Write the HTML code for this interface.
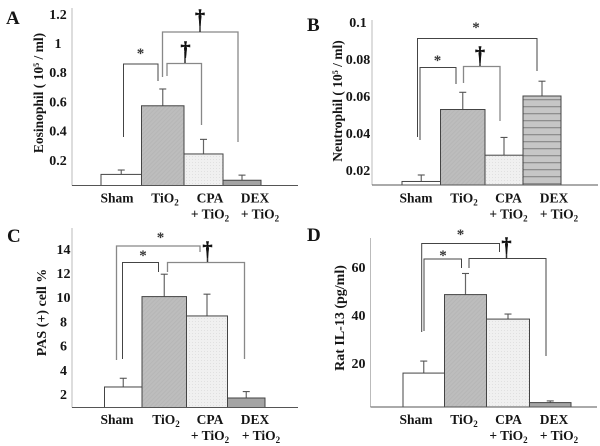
<!DOCTYPE html>
<html>
<head>
<meta charset="utf-8">
<style>
html,body{margin:0;padding:0;background:#fff;}
svg{display:block;}
text{font-family:"Liberation Serif",serif;font-weight:bold;fill:#151515;}
.cat{font-size:13.5px;text-anchor:middle;}
.tick{font-size:14px;text-anchor:middle;}
.title{font-size:13.5px;text-anchor:middle;}
.letter{font-size:19px;}
.br{fill:none;stroke:#444;stroke-width:1;}
.brg{fill:none;stroke:#888;stroke-width:1.3;}
.stem{fill:none;stroke:#333;stroke-width:1.5;}
.star{font-size:15px;text-anchor:middle;fill:#333;}
.dag{font-size:20px;text-anchor:middle;fill:#111;stroke:#111;stroke-width:.5;}
</style>
</head>
<body>
<svg id="chart" xmlns="http://www.w3.org/2000/svg" width="600" height="446" viewBox="0 0 600 446">
<defs>
<pattern id="diag" width="3" height="3" patternUnits="userSpaceOnUse" patternTransform="rotate(45)"><rect width="3" height="3" fill="#bdbdbd"/><rect width="1" height="3" fill="#b6b6b6"/></pattern>
<pattern id="dots" width="3" height="3" patternUnits="userSpaceOnUse"><rect width="3" height="3" fill="#f0f0f0"/><rect width="1" height="1" fill="#e0e0e0"/></pattern>
<pattern id="stripes" width="7" height="7" patternUnits="userSpaceOnUse" y="1"><rect width="7" height="7" fill="#c6c6c6"/><rect width="7" height="1.3" fill="#8e8e8e"/></pattern>
</defs>

<rect width="600" height="446" fill="#fff"/>

<text class="letter" x="6" y="24">A</text>
<text class="letter" x="307" y="31">B</text>
<text class="letter" x="7" y="242">C</text>
<text class="letter" x="307" y="241">D</text>

<text class="title" transform="translate(43,93) rotate(-90)">Eosinophil ( 10<tspan font-size="8" dy="-4">5</tspan><tspan dy="4"> / ml)</tspan></text>
<text class="title" transform="translate(342,101) rotate(-90)">Neutrophil ( 10<tspan font-size="8" dy="-4">5</tspan><tspan dy="4"> / ml)</tspan></text>
<text class="title" transform="translate(46,312.5) rotate(-90)" style="font-size:14px">PAS (+) cell %</text>
<text class="title" transform="translate(344,318) rotate(-90)" style="font-size:14px">Rat IL-13 (pg/ml)</text>

<g>
<path class="br" d="M123.5 137V64H158V81"/>
<path class="brg" d="M162.5 77V32H238V142"/>
<path class="brg" d="M167 76V63.5H201.5V125"/>
<path class="stem" d="M200 22V32"/>
<path class="stem" d="M185 52V63"/>
<text class="star" x="140.5" y="58">*</text>
<text class="dag" x="200" y="23.5">†</text>
<text class="dag" x="185.5" y="55.5">†</text>
</g>

<g>
<path class="br" d="M417.5 137V38.5H537V71"/>
<path class="br" d="M420 140V67.5H456V84"/>
<path class="brg" d="M463.5 83V66.5H500V121"/>
<path class="stem" d="M480 56V66"/>
<text class="star" x="476" y="32">*</text>
<text class="star" x="437.5" y="65">*</text>
<text class="dag" x="480" y="60.5">†</text>
</g>

<g>
<path class="brg" d="M116.5 360V246H200V252"/>
<path class="br" d="M122.5 359V262.5H158.5V272"/>
<path class="brg" d="M167.5 272V262.5H244.5V359"/>
<path class="stem" d="M207.5 252V262"/>
<text class="star" x="160.5" y="242">*</text>
<text class="star" x="143" y="260">*</text>
<text class="dag" x="207.5" y="255.5">†</text>
</g>

<g>
<path class="br" d="M421.7 332V243.5H499.5V252"/>
<path class="br" d="M424 331V259H461.5V268"/>
<path class="br" d="M469 268V258.5H546V356"/>
<path class="stem" d="M506.5 248V258"/>
<text class="star" x="460.5" y="239">*</text>
<text class="star" x="443" y="260">*</text>
<text class="dag" x="506.5" y="251.5">†</text>
</g>

<script>
const categories = ['Sham', 'TiO2', 'CPA + TiO2', 'DEX + TiO2'];

const ticksA = ['0.2', '0.4', '0.6', '0.8', '1', '1.2'];
const valuesA = [0.10, 0.57, 0.24, 0.06];
const errorsA = [0.13, 0.685, 0.34, 0.095];

const ticksB = ['0.02', '0.04', '0.06', '0.08', '0.1'];
const valuesB = [0.0138, 0.0527, 0.028, 0.06];
const errorsB = [0.0173, 0.062, 0.0376, 0.068];

const ticksC = ['2', '4', '6', '8', '10', '12', '14'];
const valuesC = [2.58, 10.05, 8.45, 1.67];
const errorsC = [3.3, 11.9, 10.25, 2.2];

const ticksD = ['20', '40', '60'];
const valuesD = [15.8, 48.5, 38.3, 3.5];
const errorsD = [20.8, 57.3, 40.4, 4.2];

const svgNS = 'http://www.w3.org/2000/svg';
const root = document.getElementById('chart');

function make(tag, attrs, parent) {
  const e = document.createElementNS(svgNS, tag);
  for (const k in attrs) e.setAttribute(k, attrs[k]);
  parent.appendChild(e);
  return e;
}

function drawPanel(p) {
  const y = function (v) { return p.zeroY - p.scale * v; };
  const g = make('g', {}, root);
  
  

  p.ticks.forEach(function (t) {
    const label = make('text', { class: 'tick', x: p.tickX, y: y(parseFloat(t)) + 5 }, g);
    
    
    label.textContent = t;
  });

  p.values.forEach(function (v, i) {
    const x0 = p.edges[i], x1 = p.edges[i + 1], mid = (x0 + x1) / 2;
    const top = y(v);
    const errTop = y(p.errors[i]);

    const stem = make('line', { x1: mid, x2: mid, y1: top, y2: errTop, stroke: '#666', 'stroke-width': 1.2 }, g);
    
    

    const cap = make('line', { x1: mid - 3.5, x2: mid + 3.5, y1: errTop, y2: errTop, stroke: '#555', 'stroke-width': 1.1 }, g);
    
    

    const bar = make('rect', { x: x0, y: top, width: x1 - x0, height: p.baseY - top, fill: p.fills[i], stroke: '#444', 'stroke-width': 1 }, g);
    
    
  });

  const yAxis = make('line', { x1: p.axisX, x2: p.axisX, y1: p.axisTop, y2: p.baseY, stroke: '#bbb', 'stroke-width': 1 }, g);
  
  

  const xAxis = make('line', { x1: p.axisX, x2: p.axisEnd, y1: p.baseY, y2: p.baseY, stroke: '#555', 'stroke-width': 1 }, g);
  
  

  categories.forEach(function (c, i) {
    const parts = c.split(' + ');
    const first = make('text', { class: 'cat', x: p.labelX[i], y: p.labelY }, g);
    
    
    if (parts[0] === 'TiO2') {
      first.textContent = 'TiO';
      const sub = make('tspan', { 'font-size': 9, dy: 3 }, first);
      sub.textContent = '2';
    } else {
      first.textContent = parts[0];
    }
    if (parts.length > 1) {
      const second = make('text', { class: 'cat', x: p.label2X[i], y: p.labelY + 16 }, g);
      
      
      second.textContent = '+ TiO';
      const sub2 = make('tspan', { 'font-size': 9, dy: 3 }, second);
      sub2.textContent = '2';
    }
  });
}

drawPanel({
  id: 'a', ticks: ticksA, values: valuesA, errors: errorsA,
  zeroY: 189, scale: 146, baseY: 185.5, axisX: 72, axisTop: 8, axisEnd: 298, tickX: 58,
  edges: [101, 141.5, 184, 223, 261],
  fills: ['#fff', 'url(#diag)', 'url(#dots)', '#a4a4a4'],
  labelX: [117, 165, 210, 255], label2X: [0, 0, 210, 260], labelY: 202.5
});
drawPanel({
  id: 'b', ticks: ticksB, values: valuesB, errors: errorsB,
  zeroY: 207, scale: 1850, baseY: 185, axisX: 372, axisTop: 20, axisEnd: 598, tickX: 358,
  edges: [402, 440.5, 485, 523, 561],
  fills: ['#fff', 'url(#diag)', 'url(#dots)', 'url(#stripes)'],
  labelX: [416, 464, 508.5, 554], label2X: [0, 0, 508.5, 559], labelY: 202.5
});
drawPanel({
  id: 'c', ticks: ticksC, values: valuesC, errors: errorsC,
  zeroY: 418.2, scale: 12.1, baseY: 407.5, axisX: 72, axisTop: 228, axisEnd: 298, tickX: 63.5,
  edges: [104.5, 142, 186.5, 227.5, 265],
  fills: ['#fff', 'url(#diag)', 'url(#dots)', '#a4a4a4'],
  labelX: [117, 166, 210, 255], label2X: [0, 0, 210, 261], labelY: 424
});
drawPanel({
  id: 'd', ticks: ticksD, values: valuesD, errors: errorsD,
  zeroY: 411, scale: 2.4, baseY: 407, axisX: 370.5, axisTop: 238, axisEnd: 597, tickX: 358.5,
  edges: [403, 444.5, 486.5, 529.5, 571],
  fills: ['#fff', 'url(#diag)', 'url(#dots)', '#a4a4a4'],
  labelX: [416, 464, 508.5, 554], label2X: [0, 0, 508.5, 559], labelY: 424
});
</script>
</svg>
</body>
</html>
